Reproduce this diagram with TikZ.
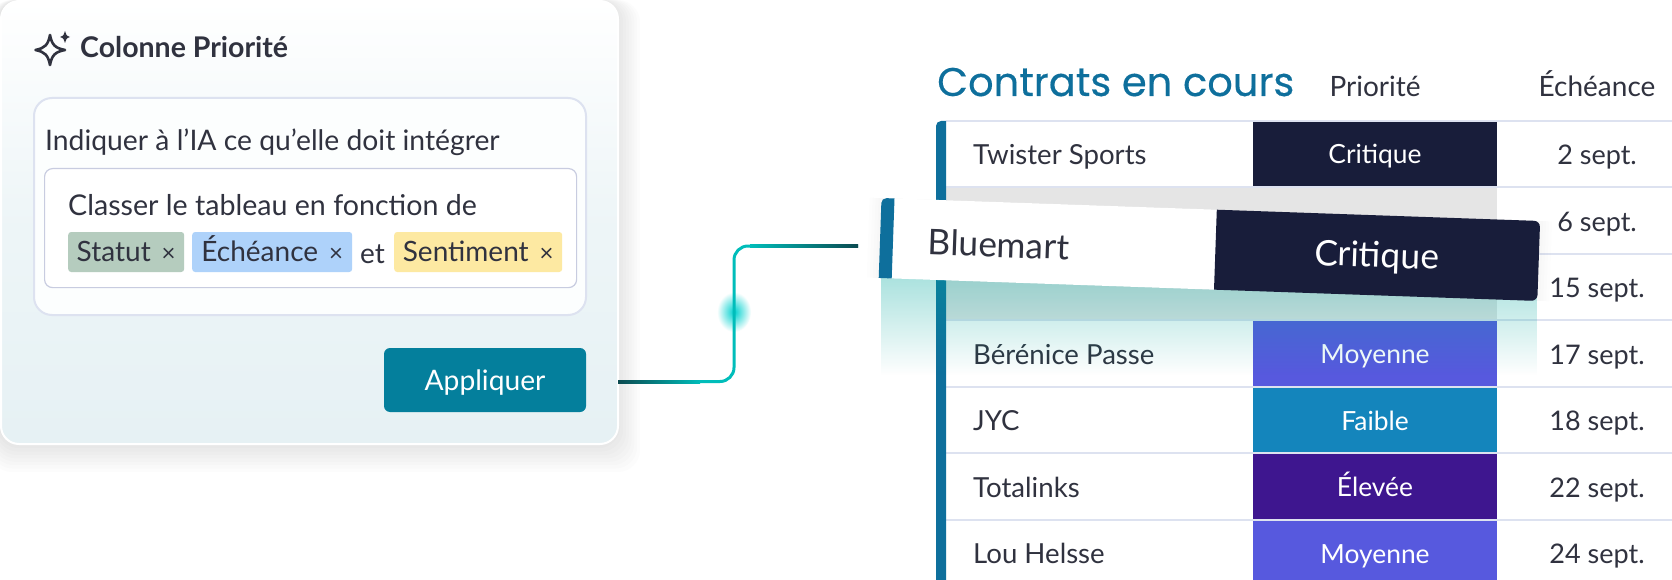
\documentclass[tikz,border=0pt]{standalone}
\usepackage{fontspec}
\setmainfont{Lato}
\newfontfamily\titlefont[FakeBold=0.35]{Poppins}
\usetikzlibrary{fadings}
\definecolor{inkdark}{HTML}{30323F}
\definecolor{panelbottom}{HTML}{E6F1F4}
\definecolor{softline}{HTML}{DDE2F0}
\definecolor{fieldline}{HTML}{C8CCE0}
\definecolor{applyblue}{HTML}{047F9C}
\definecolor{barblue}{HTML}{0E6F9C}
\definecolor{linkteal}{HTML}{00BDBA}
\definecolor{linkdark}{HTML}{0B4A50}
\definecolor{glowteal}{HTML}{00A89E}
\definecolor{critcol}{HTML}{181D3A}
\definecolor{moycol}{HTML}{5759DE}
\definecolor{faibcol}{HTML}{1485BC}
\definecolor{elevcol}{HTML}{3E168F}
\definecolor{chipgreen}{HTML}{B5CCBE}
\definecolor{chipblue}{HTML}{AED2FA}
\definecolor{chipyellow}{HTML}{FDE9A2}
\newcommand{\chipx}{\hspace{11pt}{\fontsize{24}{26}\selectfont ×}}
\tikzset{
    basetext/.style={text=inkdark, inner sep=0pt, font=\fontsize{27.6}{30}\selectfont},
    chip/.style={basetext, rounded corners=3, anchor=west, minimum height=40, text height=20, text depth=1, font=\fontsize{28}{30}\selectfont},
    cell/.style={fill=#1, text=white, inner sep=0pt, minimum width=244, minimum height=66.5,
        text height=26, text depth=6, font=\fontsize{26.4}{30}\selectfont},
    rowname/.style={basetext, anchor=base west},
    rowdate/.style={basetext, anchor=base},
    link/.style={draw=linkteal, line width=3, rounded corners=14},
}
\begin{document}
\begin{tikzpicture}[x=1pt, y=-1pt]
    \useasboundingbox (0,0) rectangle (1672,580);
    \clip (0,0) rectangle (1672,580);
    \fill[white] (0,0) rectangle (1672,580);
    % shadow of the panel
    \foreach \s in {1,...,10}
        \fill[black, opacity=0.01, rounded corners=22] (-\s,0) rectangle (612+2.8*\s,438+3.4*\s);
    \node[draw=white, line width=2, rounded corners=18, top color=white, bottom color=panelbottom,
        middle color=panelbottom!70!white, minimum width=617, minimum height=443, anchor=north west,
        inner sep=0pt] (panel) at (0,0) {};
    % panel header
    \draw[inkdark, line width=2.6, line join=round] (50,35) .. controls (52,45) and (55,48) .. (65,50)
        .. controls (55,52) and (52,55) .. (50,65) .. controls (48,55) and (45,52) .. (35.5,50)
        .. controls (45,48) and (48,45) .. (50,35) -- cycle;
    \fill[inkdark] (65,31) .. controls (65.5,34) and (66.5,36) .. (70,37) .. controls (66.5,38) and (65.5,40) .. (65,43)
        .. controls (64.5,40) and (63.5,38) .. (60,37) .. controls (63.5,36) and (64.5,34) .. (65,31) -- cycle;
    \node[basetext, anchor=base west, font=\fontsize{28.5}{30}\selectfont\bfseries] (header) at (80,58) {Colonne Priorité};
    % prompt
    \node[draw=softline, line width=2, fill=white!90!panelbottom, rounded corners=18, minimum width=552, minimum height=217,
        anchor=north west, inner sep=0pt] (promptbox) at (33,97) {};
    \node[rowname, font=\fontsize{28.3}{30}\selectfont] (prompttitle) at (45,151) {Indiquer à l’IA ce qu’elle doit intégrer};
    \node[draw=fieldline, line width=1.2, fill=white, rounded corners=8, minimum width=532, minimum height=119,
        anchor=north west, inner sep=0pt] (field) at (44,168) {};
    \node[rowname, font=\fontsize{28.6}{30}\selectfont] (promptline) at (68,215) {Classer le tableau en fonction de};
    \node[chip, fill=chipgreen, minimum width=116] (chipstatut) at (68,252) {Statut\chipx};
    \node[chip, fill=chipblue, minimum width=160] (chipdate) at (192,252) {Échéance\chipx};
    \node[rowname, font=\fontsize{28}{30}\selectfont] (promptet) at (360,263) {et};
    \node[chip, fill=chipyellow, minimum width=168] (chipsent) at (394,252) {Sentiment\chipx};
    \node[fill=applyblue, text=white, rounded corners=6, minimum width=202, minimum height=64,
        text height=26, text depth=6, font=\fontsize{28.2}{30}\selectfont, inner sep=0pt] (apply) at (485,380) {Appliquer};
    % table
    \node[anchor=base west, inner sep=0pt, text=barblue, font=\titlefont\fontsize{40}{44}\selectfont] (title) at (937,96) {Contrats en cours};
    \node[rowdate, font=\fontsize{28}{30}\selectfont] (headprio) at (1375,97) {Priorité};
    \node[rowdate, font=\fontsize{28}{30}\selectfont] (headdate) at (1597,97) {Échéance};
    \foreach \i/\yc/\who/\lvl/\col/\when in {
        1/154/Twister Sports/Critique/critcol/2 sept.,
        4/353.5/Bérénice Passe/Moyenne/moycol/17 sept.,
        5/420/JYC/Faible/faibcol/18 sept.,
        6/486.5/Totalinks/Élevée/elevcol/22 sept.,
        7/553/Lou Helsse/Moyenne/moycol/24 sept.} {
        \node[cell=\col] (prio\i) at (1375,\yc) {\lvl};
        \node[rowname] (name\i) at (973,\yc+10.5) {\who};
        \node[rowdate, font=\fontsize{27}{30}\selectfont] (date\i) at (1597,\yc+10.5) {\when};
    }
    \node[rowdate, font=\fontsize{27}{30}\selectfont] (date2) at (1597,231) {6 sept.};
    \node[rowdate, font=\fontsize{27}{30}\selectfont] (date3) at (1597,297.5) {15 sept.};
    \fill[black!10] (946,187) rectangle (1497,320);
    \foreach \yl in {121,187,253.5,320,386.5,453,520}
        \draw[softline, line width=2] (946,\yl) -- (1672,\yl);
    \fill[barblue] (946,121) [rounded corners=5] -- (936,121) [sharp corners] -- (936,600) -- (946,600) -- cycle;
    % glow of the lifted row
    \fill[glowteal, opacity=0.33, path fading=south] (881,278) -- (1537,278) -- (1537,375) -- (881,375) -- cycle;
    % lifted row
    \begin{scope}[shift={(881.5,198)}, rotate=-2, transform shape]
        \foreach \s in {1,...,4}
            \fill[black, opacity=0.008] (-3*\s,0) rectangle (659+3*\s,80);
        \fill[white] (10,0) rectangle (336,80);
        \fill[critcol] (335.5,0) [rounded corners=6] -- (659,0) -- (659,80) [sharp corners] -- (335.5,80) -- cycle;
        \fill[barblue] (13,80) -- (0,80) [rounded corners=5] -- (0,0) [sharp corners] -- (13,0) -- cycle;
        \node[basetext, anchor=base west, font=\fontsize{35.3}{38}\selectfont] (bluemart) at (48,55) {Bluemart};
        \node[anchor=base, text=white, inner sep=0pt, font=\fontsize{35.3}{38}\selectfont] (critique) at (497,52) {Critique};
    \end{scope}
    % connector
    \coordinate (linkout) at (618,381.5);
    \coordinate (linkin) at (858,246);
    \coordinate (linkmid) at (734,312);
    \shade[inner color=linkteal!70!cyan, outer color=white] (linkmid) ellipse [x radius=17, y radius=20];
    \draw[link] (linkout) -- (linkmid |- linkout) -- (linkmid |- linkin) -- (linkin);
    \shade[left color=linkdark, right color=linkteal] (618,380) rectangle (700,383);
    \shade[left color=linkteal, right color=linkdark] (750,244.5) rectangle (858,247.5);
\end{tikzpicture}
\end{document}
